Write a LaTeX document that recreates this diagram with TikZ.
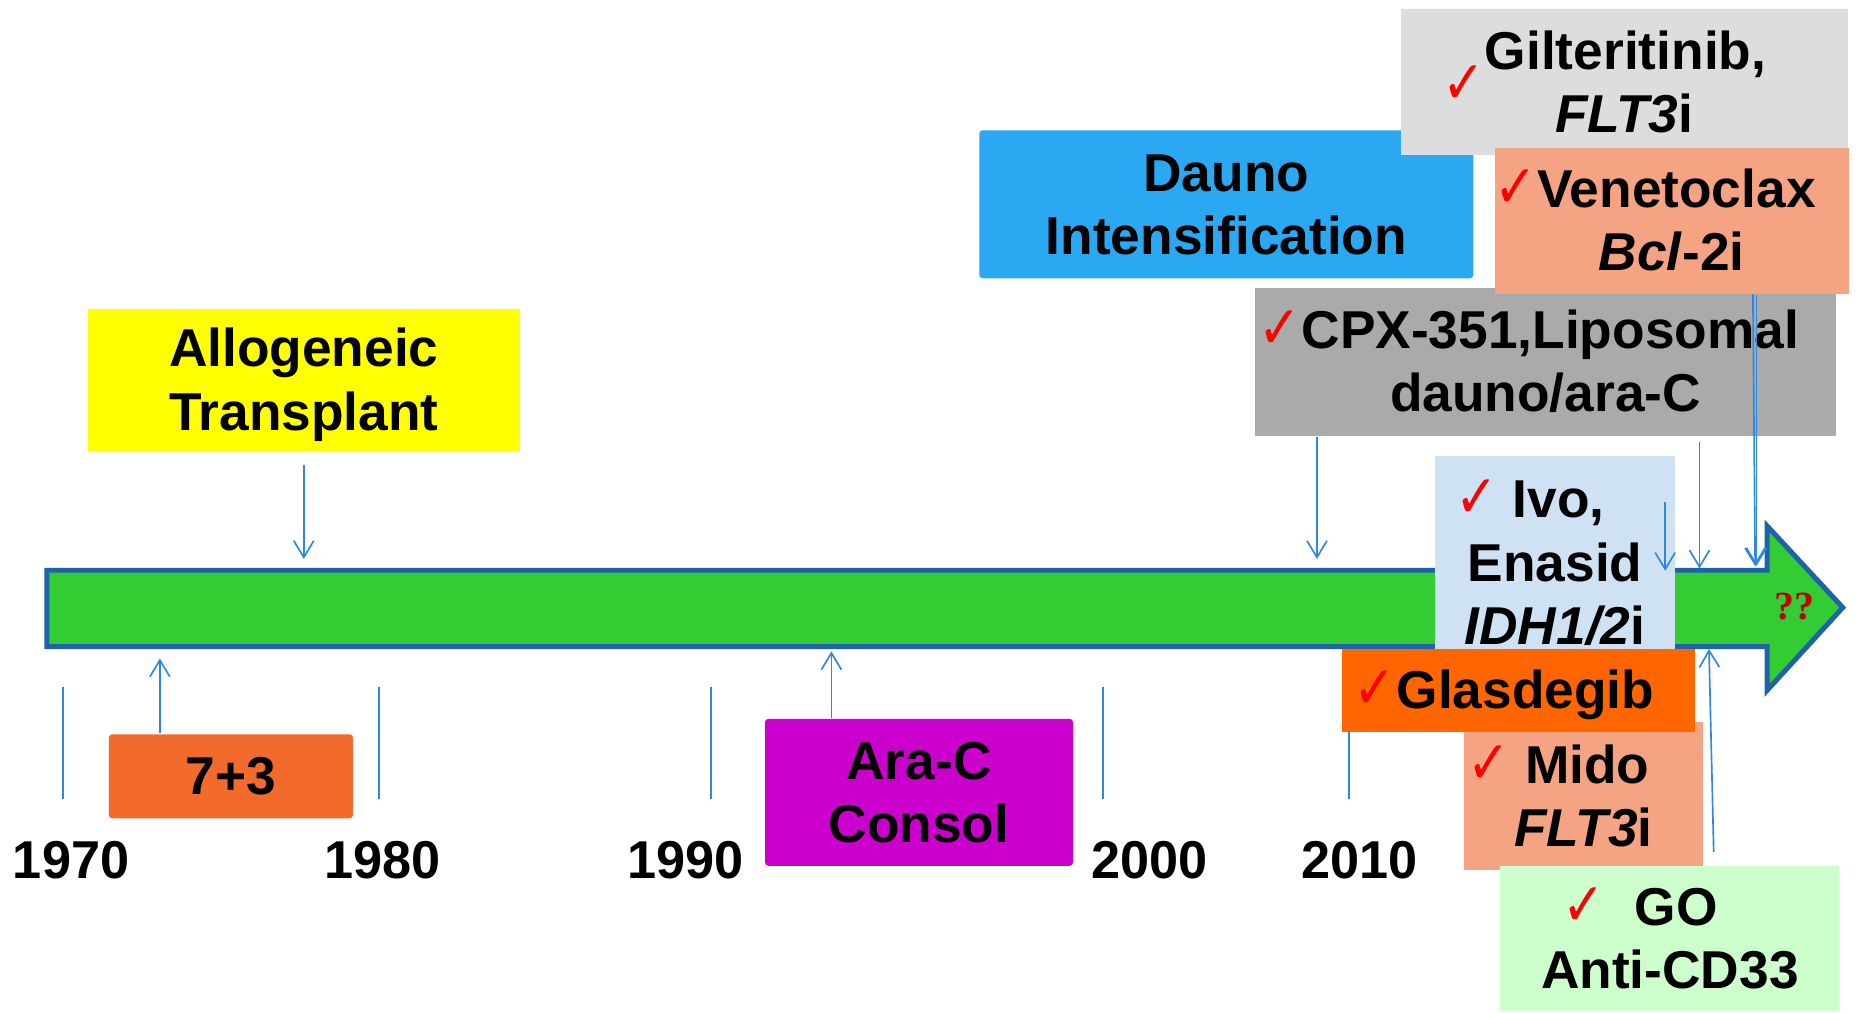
\documentclass[tikz,border=0pt]{standalone}
\usepackage{fontspec}
\setmainfont{Liberation Sans}
\newfontfamily\checkfont{DejaVu Sans}
\newfontfamily\markfont{Liberation Serif}
\usepackage{graphicx}
\usepackage{tikz}
\usetikzlibrary{arrows.meta}

\definecolor{barfill}{HTML}{33CC33}
\definecolor{barline}{HTML}{1F62A9}
\definecolor{linkblue}{HTML}{2E88E0}
\definecolor{allocol}{HTML}{FFFF00}
\definecolor{inductcol}{HTML}{F26A2C}
\definecolor{consolcol}{HTML}{CC00CC}
\definecolor{daunocol}{HTML}{2AA8F2}
\definecolor{giltcol}{HTML}{DDDDDD}
\definecolor{salmon}{HTML}{F4A482}
\definecolor{cpxcol}{HTML}{AAAAAA}
\definecolor{ivocol}{HTML}{CFE2F3}
\definecolor{glascol}{HTML}{FF6600}
\definecolor{gocol}{HTML}{CCFFCC}
\definecolor{qred}{HTML}{C00000}

\newcommand\bigfont{\fontsize{32}{38}\selectfont\bfseries}
\newcommand\qmark{\markfont\fontsize{24}{24}\selectfont\bfseries}
\newcommand\ls{\rule[-0.212em]{0pt}{1.117em}}
\newcommand\chk{{\checkfont\fontsize{36}{36}\selectfont\color{red}\scalebox{0.85}[1]{✓}}}
\newcommand\pad[1]{\rule{#1}{0pt}}
\newcommand\yr[1]{\scalebox{0.98}[1]{#1}}

\tikzset{
  box/.style      = {rectangle, inner sep=0pt, align=center, font=\bigfont},
  year/.style     = {anchor=base, font=\bigfont},
  tick/.style     = {draw=linkblue, line width=1.1pt},
  bar/.style      = {draw=barline, fill=barfill, line width=3pt}
}

\begin{document}
\begin{tikzpicture}[x=0.025cm, y=-0.025cm, >={Straight Barb[length=10pt,width=12pt]}, every path/.append style={line width=1pt}]
\useasboundingbox (0,0) rectangle (1568,855);

% Decades
\draw[tick] (53,580) -- (53,675);
\draw[tick] (320,580) -- (320,675);
\draw[tick] (600,580) -- (600,675);
\draw[tick] (931,580) -- (931,675);
\draw[tick] (1139,580) -- (1139,675);
\draw node [year] (y1970) at (60,742) {\yr{1970}};
\draw node [year] (y1980) at (323,742) {\yr{1980}};
\draw node [year] (y1990) at (579,742) {\yr{1990}};
\draw node [year] (y2000) at (971,742) {\yr{2000}};
\draw node [year] (y2010) at (1148,742) {\yr{2010}};

% Time arrow
\draw[bar] (39.5,481.5) -- (1492,481.5) -- (1492,444) -- (1556,513) -- (1492,583) -- (1492,546) -- (39.5,546) -- cycle;

% Arrow ends
\coordinate (tallo) at (256.5,472);
\coordinate (tinduct) at (135,556);
\coordinate (tconsol) at (702,550);
\coordinate (tdauno) at (1112,472);
\coordinate (tcpx) at (1435,480);
\coordinate (tgilt) at (1482,478);
\coordinate (tveneto) at (1483,478);
\coordinate (tivo) at (1406,482);
\coordinate (tgo) at (1443,548);

% Below and above the early years
\draw node [box, fill=allocol, minimum width=9.125cm, minimum height=3cm] (allo) at (256.5,321) {\ls Allogeneic\\\ls Transplant};
\draw node [box, fill=inductcol, rounded corners=2pt, minimum width=5.15cm, minimum height=1.775cm] (induct) at (195,655.5) {\ls 7+3};
\draw node [box, fill=consolcol, rounded corners=2pt, minimum width=6.5cm, minimum height=3.1cm] (consol) at (776,669) {\ls Ara-C\\\ls Consol};
\draw node [box, fill=daunocol, rounded corners=2pt, minimum width=10.425cm, minimum height=3.125cm] (dauno) at (1035.5,172.5) {\ls Dauno\\\ls Intensification};

\draw[->, linkblue] ([yshift=-8pt]allo.south) -- (tallo);
\draw[->, linkblue] (induct.north -| tinduct) -- (tinduct);
\draw[->, linkblue] (consol.north -| tconsol) -- (tconsol);

% Newer agents
\draw node [box, fill=cpxcol, minimum width=12.25cm, minimum height=3.125cm] (cpx) at (1305,305.5) {\ls\chk CPX-351,Liposomal\pad{0.7cm}\\\ls dauno/ara-C};
\draw[->, linkblue] (cpx.south -| tdauno) -- (tdauno);
\draw[->, linkblue] ([yshift=-3pt]cpx.south -| tcpx) -- (tcpx);

\draw node [box, fill=giltcol, minimum width=9.425cm, minimum height=3.075cm] (gilt) at (1371.5,69.5) {\ls\raisebox{-0.64em}[0pt][0pt]{\chk}Gilteritinib,\pad{0.85cm}\\\ls\textit{FLT3}i};
\draw[->, linkblue] ([xshift=2.69cm]gilt.south) -- (tgilt);
\draw node [box, fill=salmon, minimum width=7.425cm, minimum height=3.075cm] (veneto) at (1411.5,186.5) {\ls\chk Venetoclax\pad{0.7cm}\\\ls\textit{Bcl}-2i};
\draw[->, linkblue] (veneto.south -| tveneto) -- (tveneto);

\draw node [box, fill=ivocol, minimum width=5.05cm, minimum height=4.5cm] (ivo) at (1313,475) {\ls\chk\ Ivo,\pad{1.05cm}\\\ls Enasid\\\ls\textit{IDH1/2}i};
\draw[->, linkblue] ([yshift=-1cm]ivo.north -| tivo) -- (tivo);

\draw node [box, fill=salmon, minimum width=5.05cm, minimum height=3.125cm] (mido) at (1337,672.5) {\ls\chk\ Mido\pad{1.05cm}\\\ls\textit{FLT3}i};
\draw node [box, fill=glascol, minimum width=7.45cm, minimum height=1.75cm] (glas) at (1282,583) {\ls\chk Glasdegib\pad{0.6cm}};
\draw node [box, fill=gocol, minimum width=7.15cm, minimum height=3.075cm] (go) at (1410,792.5) {\ls\chk\ \ GO\pad{1.25cm}\\\ls Anti-CD33};
\draw[->, linkblue] ([xshift=0.925cm,yshift=0.275cm]go.north) -- (tgo);

\draw node [font=\qmark, text=qred] (unknown) at (1515,512) {??};

\end{tikzpicture}
\end{document}
